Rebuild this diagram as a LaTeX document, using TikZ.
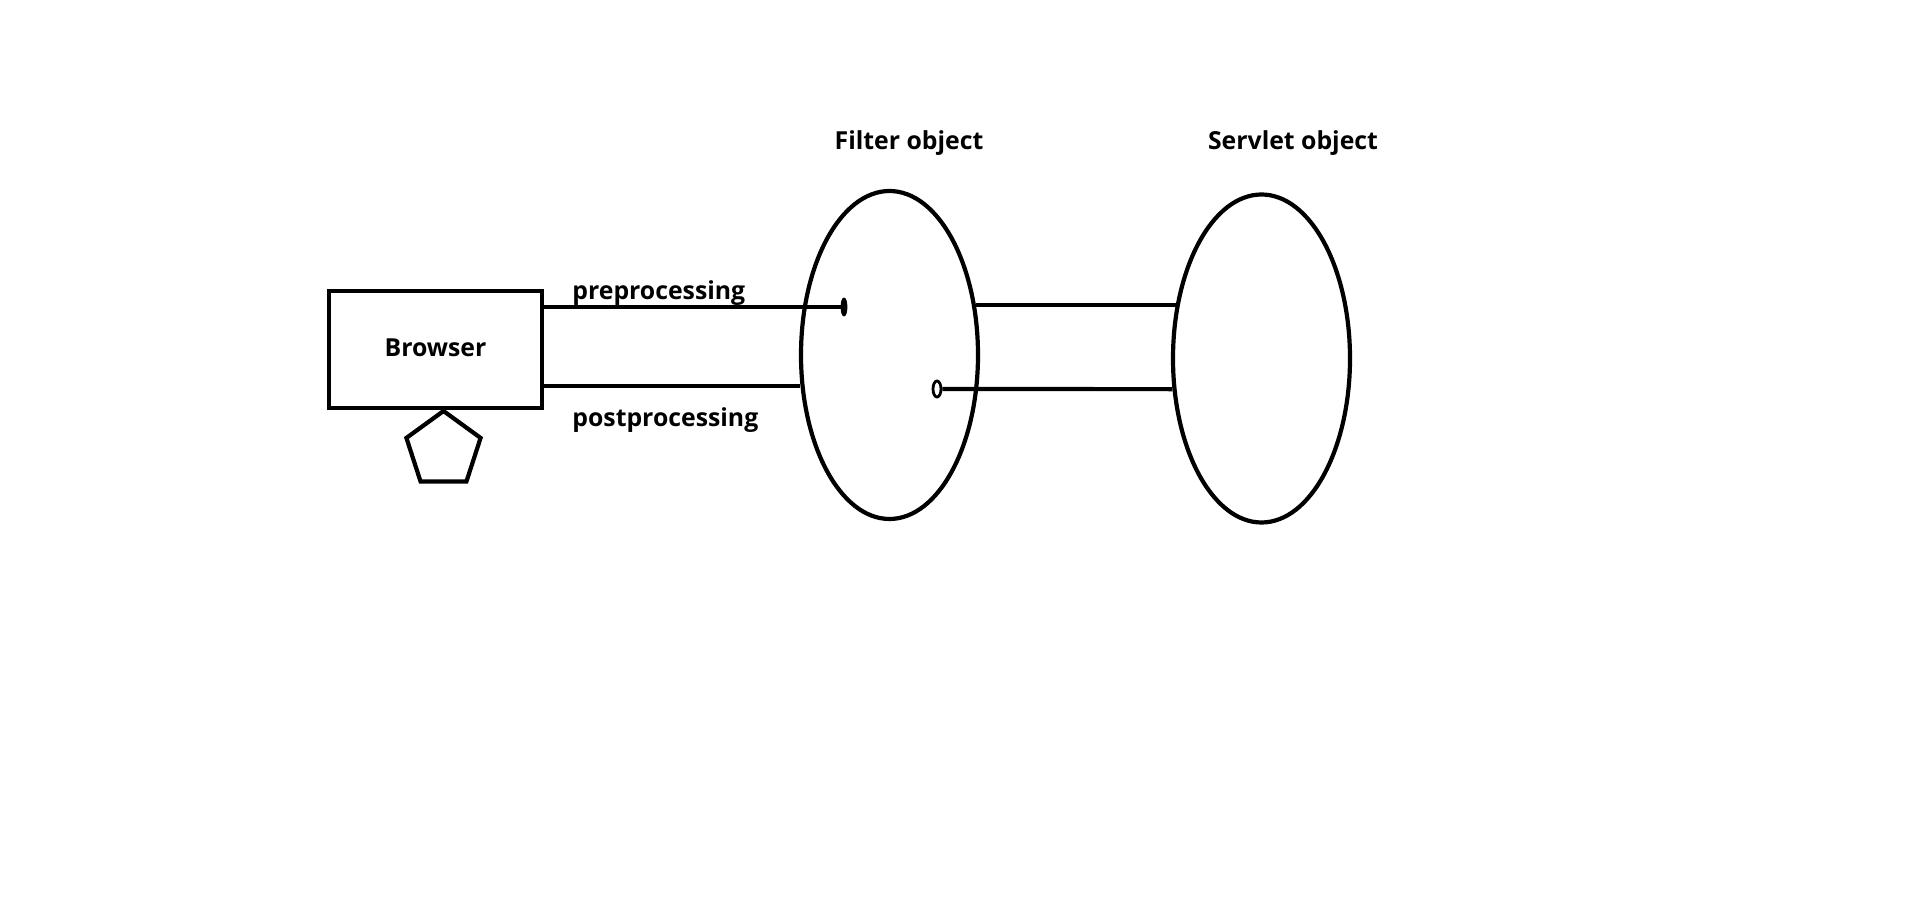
\documentclass[tikz,border=0pt]{standalone}
\usepackage{fontspec}
\setmainfont{Open Sans}
\usetikzlibrary{positioning, shapes.geometric}

\begin{document}
\begin{tikzpicture}[
  x=0.5pt, y=-0.5pt,
  every node/.style={font=\bfseries\fontsize{12.4}{15}\selectfont},
  txt/.style={inner sep=0pt},
  box/.style={draw, line width=2.1pt, minimum width=106.5pt, minimum height=58.5pt, inner sep=0pt},
  obj/.style={draw, ellipse, line width=2.1pt, minimum width=88.5pt, minimum height=164pt, inner sep=0pt},
  wire/.style={line width=2.1pt}
]
\fill[white] (0,0) rectangle (1913,897);
\useasboundingbox (0,0) rectangle (1913,897);
% Browser and the small pentagon below it
\node[box] (browser) at (435.5,349.5) {\raisebox{2pt}{Browser}};
\node[draw, regular polygon, regular polygon sides=5, line width=2.1pt, minimum size=39pt, inner sep=0pt] (client) at (443.5,450) {};
% Filter and servlet objects
\node[obj] (filter) at (889.5,355) {};
\node[obj] (servlet) at (1261.5,358.5) {};
\node[txt] (filterlbl) at (909,143) {Filter object};
\node[txt] (servletlbl) at (1293,143) {Servlet object};
% Inner end points
\node[draw, fill, ellipse, inner sep=0pt, minimum width=3pt, minimum height=9pt] (dotin) at (844,307) {};
\node[draw, ellipse, line width=1.4pt, inner sep=0pt, minimum width=4pt, minimum height=8pt] (dotout) at (937,389) {};
% Connectors
\draw[wire] (browser.east |- dotin) -- (dotin);
\draw[wire] (browser.east |- filter.199.9) -- (filter.199.9);
\draw[wire] (filter.30.8) -- (servlet.147.6 |- filter.30.8);
\draw[wire] (dotout) -- (servlet.199.3);
% Labels
\node[txt, anchor=west] (prelbl) at (572,293) {preprocessing};
\node[txt, anchor=west] (postlbl) at (572,420) {postprocessing};
\end{tikzpicture}
\end{document}
